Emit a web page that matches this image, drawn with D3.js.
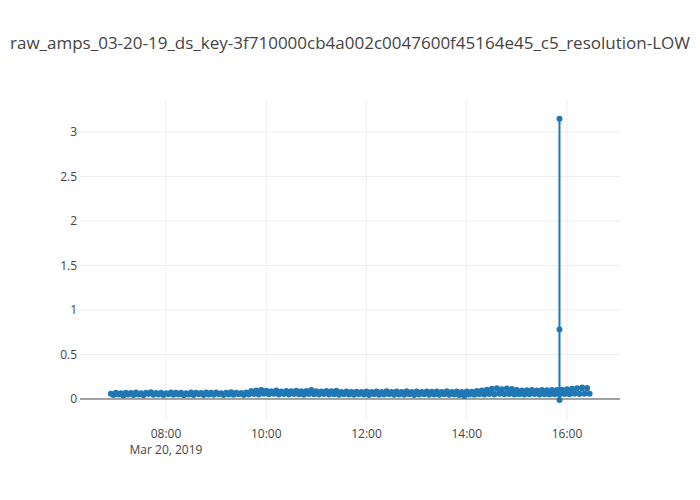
<!DOCTYPE html>
<html>
<head>
<meta charset="utf-8">
<script src="https://cdn.jsdelivr.net/npm/d3@7"></script>
<style>
  html, body { margin: 0; padding: 0; background: #fff; }
  svg { display: block; font-family: "Open Sans", sans-serif; }
</style>
</head>
<body>
<svg id="chart" width="700" height="500"></svg>
<script>
const chartTitle = "raw_amps_03-20-19_ds_key-3f710000cb4a002c0047600f45164e45_c5_resolution-LOW";
const dateLabel = "Mar 20, 2019";
const sampleStart = "2019-03-20T06:54:00Z";
const sampleStepMinutes = 3;
const ampValues = [
  0.06,0.045,0.07,0.05,0.065,0.04,0.07,0.05,0.068,0.045,
  0.072,0.05,0.066,0.042,0.07,0.055,0.075,0.048,0.068,0.05,
  0.07,0.044,0.065,0.052,0.073,0.047,0.069,0.05,0.071,0.043,
  0.066,0.05,0.072,0.046,0.07,0.052,0.068,0.045,0.074,0.05,
  0.069,0.047,0.072,0.053,0.066,0.044,0.07,0.05,0.075,0.048,
  0.071,0.052,0.068,0.046,0.073,0.05,0.09,0.055,0.095,0.05,
  0.1,0.06,0.092,0.052,0.088,0.058,0.095,0.05,0.085,0.055,
  0.09,0.05,0.087,0.057,0.093,0.052,0.086,0.048,0.09,0.055,
  0.1,0.052,0.088,0.05,0.084,0.056,0.09,0.05,0.086,0.053,
  0.092,0.048,0.08,0.052,0.085,0.05,0.078,0.047,0.082,0.052,
  0.08,0.05,0.085,0.046,0.079,0.053,0.083,0.048,0.08,0.05,
  0.086,0.052,0.078,0.047,0.084,0.051,0.08,0.049,0.087,0.052,
  0.08,0.046,0.083,0.05,0.079,0.052,0.085,0.048,0.081,0.05,
  0.084,0.047,0.08,0.052,0.086,0.049,0.078,0.05,0.083,0.046,
  0.08,0.035,0.085,0.05,0.082,0.048,0.09,0.052,0.095,0.05,
  0.105,0.055,0.115,0.05,0.12,0.058,0.11,0.052,0.118,0.056,
  0.112,0.05,0.1,0.054,0.095,0.05,0.098,0.052,0.1,0.055,
  0.096,0.05,0.1,0.053,0.098,0.05,0.102,0.054,0.1,0.05,
  0.105,0.055,0.11,0.052,0.115,0.058,0.12,0.055,0.13,0.06,
  0.125,0.058
];
const spikeTimes = ["2019-03-20T15:50:56Z","2019-03-20T15:50:57Z","2019-03-20T15:50:58Z","2019-03-20T15:50:59Z"];
const spikeValues = [0.09, 3.15, 0.78, -0.01];
const xTickTimes = ["2019-03-20T08:00:00Z","2019-03-20T10:00:00Z","2019-03-20T12:00:00Z","2019-03-20T14:00:00Z","2019-03-20T16:00:00Z"];
const yTickValues = [0, 0.5, 1, 1.5, 2, 2.5, 3];
const xRange = ["2019-03-20T06:17:04Z","2019-03-20T17:03:24Z"];
const yRange = [-0.236, 3.36];

const color = "#1f77b4";
const svg = d3.select("#chart");
const margin = {l: 80, r: 80, t: 100, b: 80};
const W = 700, H = 500;

const startMs = Date.parse(sampleStart);
let data = ampValues.map((v, i) => ({t: new Date(startMs + i * sampleStepMinutes * 60000), v}));
spikeTimes.forEach((t, i) => data.push({t: new Date(t), v: spikeValues[i]}));
data.sort((a, b) => a.t - b.t);

const x = d3.scaleUtc().domain(xRange.map(d => new Date(d))).range([margin.l, W - margin.r]);
const y = d3.scaleLinear().domain(yRange).range([H - margin.b, margin.t]);

// grid
const g = svg.append("g");
g.selectAll("line.xg").data(xTickTimes).join("line")
  .attr("x1", d => x(new Date(d))).attr("x2", d => x(new Date(d)))
  .attr("y1", margin.t).attr("y2", H - margin.b)
  .attr("stroke", "#eee").attr("stroke-width", 1);
g.selectAll("line.yg").data(yTickValues.filter(d => d !== 0)).join("line")
  .attr("x1", margin.l).attr("x2", W - margin.r)
  .attr("y1", d => y(d)).attr("y2", d => y(d))
  .attr("stroke", "#eee").attr("stroke-width", 1);
// zero line
g.append("line")
  .attr("x1", margin.l).attr("x2", W - margin.r)
  .attr("y1", y(0)).attr("y2", y(0))
  .attr("stroke", "#444").attr("stroke-width", 1);

// data
const line = d3.line().x(d => x(d.t)).y(d => y(d.v));
svg.append("path").datum(data)
  .attr("d", line).attr("fill", "none")
  .attr("stroke", color).attr("stroke-width", 2).attr("stroke-linejoin", "round");
svg.append("g").selectAll("circle").data(data).join("circle")
  .attr("cx", d => x(d.t)).attr("cy", d => y(d.v)).attr("r", 3)
  .attr("fill", color);

// x tick labels
const fmt = d3.utcFormat("%H:%M");
const xl = svg.append("g").attr("font-size", 12).attr("fill", "#444").attr("text-anchor", "middle");
xTickTimes.forEach((d, i) => {
  const xx = x(new Date(d));
  xl.append("text").attr("x", xx).attr("y", 438).text(fmt(new Date(d)));
  if (i === 0) xl.append("text").attr("x", xx).attr("y", 454).text(dateLabel);
});

// y tick labels
svg.append("g").attr("font-size", 12).attr("fill", "#444").attr("text-anchor", "end")
  .selectAll("text").data(yTickValues).join("text")
  .attr("x", 77).attr("y", d => y(d)).attr("dy", "0.35em")
  .text(d => d3.format("")(d));

// title
svg.append("text").attr("x", W / 2).attr("y", 49).attr("text-anchor", "middle")
  .attr("font-size", 17).attr("fill", "#444").text(chartTitle);
</script>
</body>
</html>
